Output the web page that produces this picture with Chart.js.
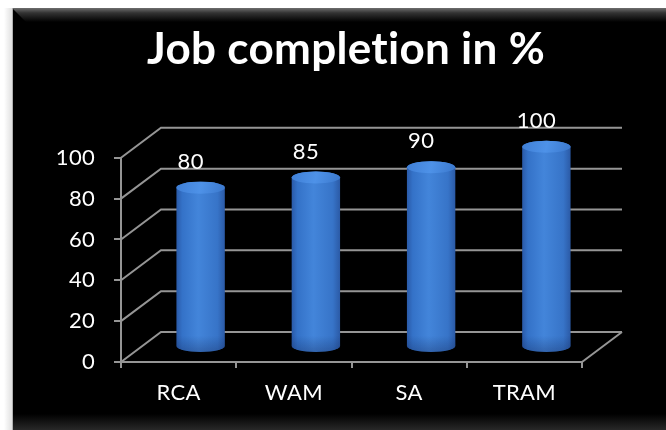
<!DOCTYPE html>
<html>
<head>
<meta charset="utf-8">
<title>Job completion in %</title>
<script src="https://cdn.jsdelivr.net/npm/chart.js@4.4.1/dist/chart.umd.min.js"></script>
<style>
  html, body { margin: 0; padding: 0; background: #fff; }
  canvas { display: block; }
</style>
</head>
<body>
<canvas id="jobChart" width="666" height="430"></canvas>
<script>
// data
const categories = ['RCA', 'WAM', 'SA', 'TRAM'];
const completion = [80, 85, 90, 100];
const yTicks = [0, 20, 40, 60, 80, 100];

// 3d look
const DEPTH_X = 40, DEPTH_Y = -30;   // back wall offset from the front axes
const BAR_DX = 22;                   // cylinders sit half way back
const GRID = '#959595';
const FONT = 'Lato, "Open Sans", sans-serif';

// black panel with a bevelled top edge
const framePlugin = {
  id: 'frame',
  beforeDraw(chart) {
    const ctx = chart.ctx, W = chart.width, H = chart.height;
    // small tracking keeps Lato from joining "ti"
    ctx.letterSpacing = '0.3px';
    ctx.save();
    ctx.fillStyle = '#fff';
    ctx.fillRect(0, 0, W, H);
    const sh = ctx.createLinearGradient(4, 0, 12, 0);
    sh.addColorStop(0, 'rgba(0,0,0,0)');
    sh.addColorStop(1, 'rgba(0,0,0,0.12)');
    ctx.fillStyle = sh;
    ctx.fillRect(4, 8, 8, H - 8);
    ctx.fillStyle = '#000';
    ctx.fillRect(12, 8, W - 12, H - 8);
    const top = ctx.createLinearGradient(0, 8, 0, 22);
    top.addColorStop(0, '#6e6e6e');
    top.addColorStop(0.35, '#333');
    top.addColorStop(1, '#000');
    ctx.fillStyle = top;
    ctx.beginPath();
    ctx.moveTo(12, 8);
    ctx.lineTo(W, 8);
    ctx.lineTo(W, 22);
    ctx.lineTo(26, 22);
    ctx.closePath();
    ctx.fill();
    const bot = ctx.createLinearGradient(0, H - 16, 0, H);
    bot.addColorStop(0, 'rgba(40,40,40,0)');
    bot.addColorStop(1, 'rgba(40,40,40,1)');
    ctx.fillStyle = bot;
    ctx.fillRect(12, H - 16, W - 12, 16);
    ctx.fillStyle = '#b0b0b0';
    ctx.fillRect(12, 8, 1, H - 8);
    ctx.restore();
  }
};

// side wall, back wall and floor lines
const wallsPlugin = {
  id: 'walls',
  beforeDatasetsDraw(chart) {
    const ctx = chart.ctx, y = chart.scales.y, a = chart.chartArea;
    ctx.save();
    ctx.strokeStyle = GRID;
    ctx.lineWidth = 2;
    ctx.beginPath();
    yTicks.forEach(v => {
      const py = y.getPixelForValue(v);
      ctx.moveTo(a.left, py);
      ctx.lineTo(a.left + DEPTH_X, py + DEPTH_Y);
      ctx.lineTo(a.right + DEPTH_X, py + DEPTH_Y);
    });
    ctx.moveTo(a.right, a.bottom);
    ctx.lineTo(a.right + DEPTH_X, a.bottom + DEPTH_Y);
    ctx.stroke();
    ctx.restore();
  }
};

// bars drawn as shaded cylinders, plus value labels
const cylinderPlugin = {
  id: 'cylinders',
  afterDatasetsDraw(chart) {
    const ctx = chart.ctx;
    const meta = chart.getDatasetMeta(0);
    ctx.save();
    meta.data.forEach((bar, i) => {
      const cx = bar.x + BAR_DX, rx = bar.width / 2, ry = 6;
      const top = bar.y - 11, bottom = bar.base - 15;

      const body = ctx.createLinearGradient(cx - rx, 0, cx + rx, 0);
      body.addColorStop(0, '#2a5aa8');
      body.addColorStop(0.12, '#3472c8');
      body.addColorStop(0.45, '#4385da');
      body.addColorStop(0.85, '#3774c8');
      body.addColorStop(1, '#2b5aa6');
      ctx.filter = 'blur(0.7px)';
      ctx.fillStyle = body;
      ctx.beginPath();
      ctx.moveTo(cx - rx, top);
      ctx.lineTo(cx - rx, bottom);
      ctx.ellipse(cx, bottom, rx, ry, 0, Math.PI, 0, true);
      ctx.lineTo(cx + rx, top);
      ctx.ellipse(cx, top, rx, ry, 0, 0, Math.PI, true);
      ctx.closePath();
      ctx.fill();

      // slightly darker foot of the cylinder
      const foot = ctx.createLinearGradient(0, bottom - 10, 0, bottom + ry);
      foot.addColorStop(0, 'rgba(20,40,90,0)');
      foot.addColorStop(1, 'rgba(20,40,90,0.35)');
      ctx.fillStyle = foot;
      ctx.beginPath();
      ctx.moveTo(cx - rx, bottom - 10);
      ctx.lineTo(cx - rx, bottom);
      ctx.ellipse(cx, bottom, rx, ry, 0, Math.PI, 0, true);
      ctx.lineTo(cx + rx, bottom - 10);
      ctx.closePath();
      ctx.fill();

      const cap = ctx.createLinearGradient(cx - rx, top - ry, cx + rx, top + ry);
      cap.addColorStop(0, '#3f7fd6');
      cap.addColorStop(0.5, '#4e92e8');
      cap.addColorStop(1, '#3b78cc');
      ctx.fillStyle = cap;
      ctx.beginPath();
      ctx.ellipse(cx, top, rx, ry, 0, 0, Math.PI * 2);
      ctx.fill();
      ctx.filter = 'none';

      ctx.fillStyle = '#fff';
      ctx.font = '22px ' + FONT;
      ctx.textAlign = 'center';
      ctx.textBaseline = 'middle';
      ctx.fillText(String(completion[i]), bar.x + 12, bar.y - 37);
    });
    ctx.restore();
  }
};

new Chart(document.getElementById('jobChart'), {
  type: 'bar',
  data: {
    labels: categories,
    datasets: [{
      label: 'Job completion in %',
      data: completion,
      backgroundColor: 'rgba(0,0,0,0)',
      borderWidth: 0,
      categoryPercentage: 1,
      barPercentage: 0.42
    }]
  },
  options: {
    responsive: false,
    animation: false,
    layout: { padding: { left: 26, right: 0, top: 8, bottom: 8 } },
    plugins: {
      legend: { display: false },
      tooltip: { enabled: false },
      title: {
        display: true,
        text: 'Job completion in %',
        color: '#fff',
        font: { family: FONT, size: 44, weight: 'bold' },
        padding: { top: 15, bottom: 82 }
      }
    },
    scales: {
      x: {
        offset: true,
        grid: { offset: true, drawOnChartArea: false, tickLength: 6, color: GRID, lineWidth: 2 },
        border: { color: GRID, width: 2 },
        ticks: { color: '#fff', font: { family: FONT, size: 22 }, padding: 12 },
        afterFit(s) { s.height = 60; }
      },
      y: {
        min: 0,
        max: 100,
        afterBuildTicks(s) { s.ticks = yTicks.map(v => ({ value: v })); },
        grid: { drawOnChartArea: false, tickLength: 7, color: GRID, lineWidth: 2 },
        border: { color: GRID, width: 2 },
        ticks: { color: '#fff', font: { family: FONT, size: 22 }, padding: 19 },
        afterFit(s) { s.width = 95; }
      },
      depth: {
        position: 'right',
        grid: { display: false },
        border: { display: false },
        ticks: { display: false },
        afterFit(s) { s.width = 84; }
      }
    }
  },
  plugins: [framePlugin, wallsPlugin, cylinderPlugin]
});
</script>
</body>
</html>
